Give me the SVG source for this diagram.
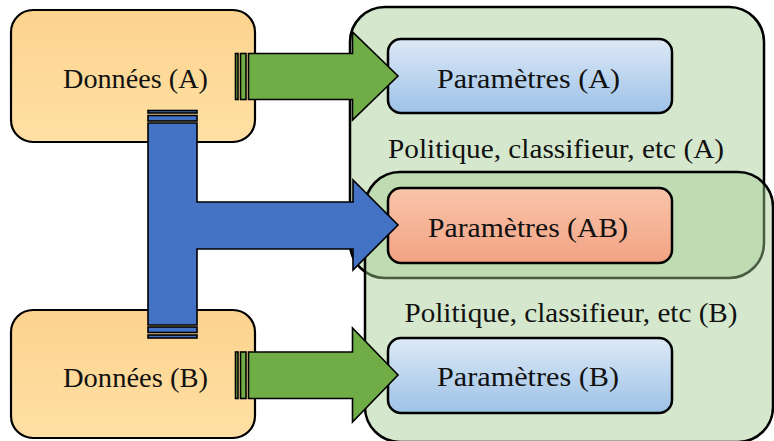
<svg xmlns="http://www.w3.org/2000/svg" width="774" height="441" viewBox="0 0 774 441">
  <defs>
    <linearGradient id="gData" x1="0" y1="0" x2="0" y2="1">
      <stop offset="0" stop-color="#fcd38e"/>
      <stop offset="1" stop-color="#ffe0a4"/>
    </linearGradient>
    <linearGradient id="gBlue" x1="0" y1="0" x2="0" y2="1">
      <stop offset="0" stop-color="#dde9f6"/>
      <stop offset="1" stop-color="#9dc2e7"/>
    </linearGradient>
    <linearGradient id="gSalmon" x1="0" y1="0" x2="0" y2="1">
      <stop offset="0" stop-color="#f8c5ab"/>
      <stop offset="1" stop-color="#f3a283"/>
    </linearGradient>
  </defs>
  <style>
    .box { stroke: #000; stroke-width: 2.5; }
    .data { fill: url(#gData); stroke: #000; stroke-width: 2.2; }
    .params { fill: url(#gBlue); }
    .shared { fill: url(#gSalmon); }
    .groupA { fill: #d5e8cd; stroke: #000; stroke-width: 2.5; }
    .groupB { fill: rgb(162,204,144); fill-opacity: 0.45; stroke: #000; stroke-width: 2.5; }
    .green { fill: #70ad47; stroke: #000; stroke-width: 1.6; stroke-linejoin: miter; }
    .blue { fill: #4472c4; stroke: #000; stroke-width: 1.6; stroke-linejoin: miter; }
    text { font-family: "Liberation Serif", "Times New Roman", serif; font-size: 27px; fill: #111; text-anchor: middle; }
  </style>

  <!-- policy containers (B overlaps A, translucent) -->
  <g id="policy-a">
    <rect class="groupA" x="350" y="7" width="414" height="271" rx="35" ry="35"/>
    <text x="556" y="158" textLength="336" lengthAdjust="spacingAndGlyphs">Politique, classifieur, etc (A)</text>
  </g>
  <g id="policy-b">
    <rect class="groupB" x="365" y="172" width="408" height="270" rx="35" ry="35"/>
    <text x="571" y="322" textLength="333" lengthAdjust="spacingAndGlyphs">Politique, classifieur, etc (B)</text>
  </g>

  <!-- data sources -->
  <g id="data-a">
    <rect class="data" x="11" y="10" width="244" height="132" rx="22" ry="22"/>
    <text x="135.5" y="88" textLength="145" lengthAdjust="spacingAndGlyphs">Données (A)</text>
  </g>
  <g id="data-b">
    <rect class="data" x="11" y="310" width="244" height="128" rx="22" ry="22"/>
    <text x="135.5" y="387" textLength="145" lengthAdjust="spacingAndGlyphs">Données (B)</text>
  </g>

  <!-- parameter sets -->
  <g id="params-a">
    <rect class="box params" x="388" y="39" width="284" height="74" rx="13" ry="13"/>
    <text x="528.5" y="88" textLength="183" lengthAdjust="spacingAndGlyphs">Paramètres (A)</text>
  </g>
  <g id="params-ab">
    <rect class="box shared" x="388" y="188" width="284" height="75" rx="13" ry="13"/>
    <text x="528" y="237" textLength="200" lengthAdjust="spacingAndGlyphs">Paramètres (AB)</text>
  </g>
  <g id="params-b">
    <rect class="box params" x="388" y="338" width="284" height="75" rx="13" ry="13"/>
    <text x="528" y="386" textLength="182" lengthAdjust="spacingAndGlyphs">Paramètres (B)</text>
  </g>

  <!-- connectors: striped block arrows -->
  <g id="connectors">
    <!-- A -> Paramètres (A) -->
    <g id="arrow-a">
      <rect class="green" x="235.5" y="53.5" width="2.5" height="46"/>
      <rect class="green" x="240.5" y="53.5" width="5.5" height="46"/>
      <path class="green" d="M248.5,53.5 H352.5 V32 L398,76 L352.5,120 V99.5 H248.5 Z"/>
    </g>
    <!-- A and B -> Paramètres (AB) -->
    <g id="arrow-ab">
      <rect class="blue" x="148" y="110.5" width="49" height="2.5"/>
      <rect class="blue" x="148" y="115.5" width="49" height="5.5"/>
      <rect class="blue" x="148" y="327" width="49" height="5.5"/>
      <rect class="blue" x="148" y="335" width="49" height="3"/>
      <path class="blue" d="M148,123 H197 V202 H353 V180 L398,225 L353,270 V249 H197 V325 H148 Z"/>
    </g>
    <!-- B -> Paramètres (B) -->
    <g id="arrow-b">
      <rect class="green" x="235.5" y="352" width="2.5" height="46.5"/>
      <rect class="green" x="240.5" y="352" width="5.5" height="46.5"/>
      <path class="green" d="M248.5,352 H352.5 V328 L398,375 L352.5,422 V398.5 H248.5 Z"/>
    </g>
  </g>
</svg>
